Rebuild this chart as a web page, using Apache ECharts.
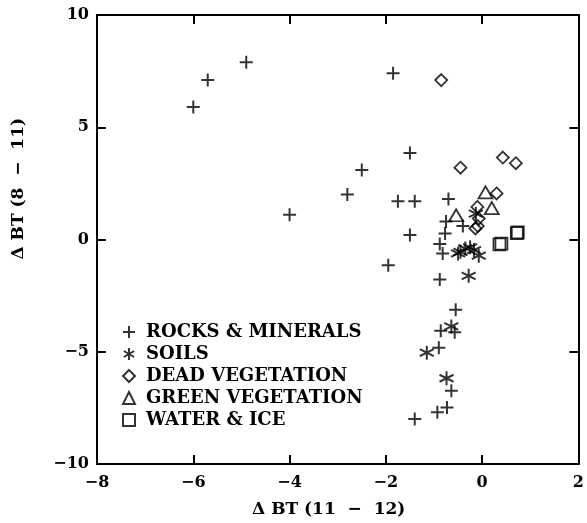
<!DOCTYPE html>
<html>
<head>
<meta charset="utf-8">
<script src="https://cdn.jsdelivr.net/npm/echarts@6/dist/echarts.min.js"></script>
<style>
html,body{margin:0;padding:0;background:#fff;}
#chart{width:587px;height:523px;}
</style>
</head>
<body>
<div id="chart"></div>
<script>
// data: [dBT(11-12), dBT(8-11)]
var rocks = [[-6.0,5.9],[-5.7,7.1],[-4.9,7.9],[-1.85,7.4],[-1.5,3.85],[-2.5,3.1],[-2.8,2.0],[-4.0,1.1],
	[-1.75,1.7],[-1.4,1.7],[-0.7,1.8],[-1.5,0.2],[-1.95,-1.15],[-0.75,0.8],[-0.4,0.6],[-0.77,0.27],
	[-0.88,-0.2],[-0.82,-0.62],[-0.88,-1.78],[-0.55,-3.13],[-0.86,-4.06],[-0.57,-4.13],[-0.9,-4.82],
	[-0.64,-6.74],[-0.73,-7.48],[-0.93,-7.7],[-1.4,-8.0]];
var soils = [[-0.13,1.15],[-0.5,-0.62],[-0.35,-0.4],[-0.25,-0.35],[-0.17,-0.47],[-0.07,-0.72],
	[-0.45,-0.55],[-0.28,-1.62],[-0.64,-3.87],[-1.15,-5.04],[-0.74,-6.18]];
var deadVeg = [[-0.85,7.1],[-0.45,3.2],[0.43,3.65],[0.7,3.4],[0.3,2.05],[-0.1,1.45],[-0.07,0.93],
	[-0.09,0.6],[-0.14,0.49]];
var greenVeg = [[0.07,2.1],[0.2,1.4],[-0.54,1.08]];
var waterIce = [[0.36,-0.22],[0.4,-0.18],[0.72,0.28],[0.74,0.32]];
var seriesNames = ['ROCKS & MINERALS','SOILS','DEAD VEGETATION','GREEN VEGETATION','WATER & ICE'];

var font = '"DejaVu Serif", serif';
function minus(v){ return String(v).replace('-', '\u2212'); }

var chart = echarts.init(document.getElementById('chart'));
var hollow = {color:'rgba(0,0,0,0)', borderColor:'#000', borderWidth:1.8};
var stroked = {color:'#000', borderColor:'#000', borderWidth:2};

var option = {
	animation:false,
	backgroundColor:'#fff',
	grid:{left:97, right:7, top:15, bottom:56},
	legend:{
		orient:'vertical', left:117, top:318,
		itemWidth:12, itemHeight:12, itemGap:4,
		textStyle:{fontFamily:font, fontWeight:'bold', fontSize:18, color:'#000', padding:[0,0,0,6]},
		data:seriesNames
	},
	xAxis:[
		{type:'value', min:-8, max:2, interval:2,
			axisLine:{show:true, onZero:false, lineStyle:{color:'black', width:2}},
			axisTick:{show:true, inside:true, length:9, lineStyle:{color:'black', width:2}},
			splitLine:{show:false},
			axisLabel:{margin:11, fontFamily:font, fontWeight:'bold', fontSize:16, color:'#000', formatter:minus},
			name:'\u0394 BT (11  \u2212  12)', nameLocation:'middle', nameGap:37,
			nameTextStyle:{fontFamily:font, fontWeight:'bold', fontSize:17, color:'#000', padding:[0,18,0,0]}},
		{type:'value', min:-8, max:2, interval:2, position:'top',
			axisLine:{show:true, onZero:false, lineStyle:{color:'black', width:2}},
			axisTick:{show:true, inside:true, length:9, lineStyle:{color:'black', width:2}},
			splitLine:{show:false},
			axisLabel:{show:false}}
	],
	yAxis:[
		{type:'value', min:-10, max:10, interval:5,
			axisLine:{show:true, onZero:false, lineStyle:{color:'black', width:2}},
			axisTick:{show:true, inside:true, length:9, lineStyle:{color:'black', width:2}},
			splitLine:{show:false},
			axisLabel:{margin:8, fontFamily:font, fontWeight:'bold', fontSize:16, color:'#000', formatter:minus}},
		{type:'value', min:-10, max:10, interval:5, position:'right',
			axisLine:{show:true, onZero:false, lineStyle:{color:'black', width:2}},
			axisTick:{show:true, inside:true, length:9, lineStyle:{color:'black', width:2}},
			splitLine:{show:false},
			axisLabel:{show:false}}
	],
	graphic:[{
		type:'text', left:10, top:118, rotation:Math.PI/2,
		style:{text:'\u0394 BT (8  \u2212  11)', font:'bold 17px "DejaVu Serif", serif', fill:'#000'}
	}],
	series:[
		{name:seriesNames[0], type:'scatter', data:rocks, symbol:'path://M5,0L5,10M0,5L10,5', symbolSize:13, itemStyle:stroked},
		{name:seriesNames[1], type:'scatter', data:soils, symbol:'path://M5,0L5,10M0.7,2.5L9.3,7.5M0.7,7.5L9.3,2.5', symbolSize:14, itemStyle:stroked},
		{name:seriesNames[2], type:'scatter', data:deadVeg, symbol:'diamond', symbolSize:[12,12], itemStyle:hollow},
		{name:seriesNames[3], type:'scatter', data:greenVeg, symbol:'triangle', symbolSize:[14,12], itemStyle:hollow},
		{name:seriesNames[4], type:'scatter', data:waterIce, symbol:'rect', symbolSize:[12,12], itemStyle:hollow}
	]
};
chart.setOption(option);
</script>
</body>
</html>
